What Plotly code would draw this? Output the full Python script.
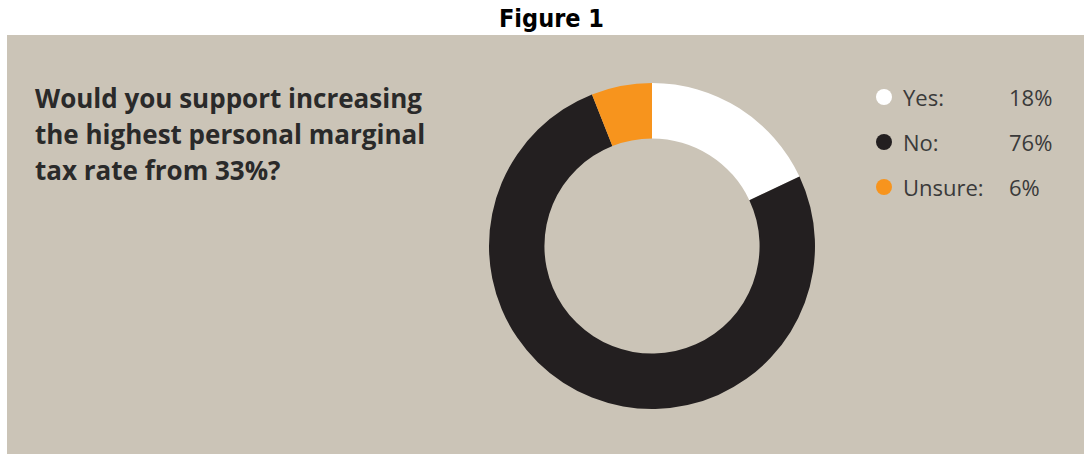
import plotly.graph_objects as go

labels = ["Yes", "No", "Unsure"]
values = [18, 76, 6]
colors = ["#FFFFFF", "#231F20", "#F7941D"]
question_lines = ["Would you support increasing", "the highest personal marginal", "tax rate from 33%?"]
fig_title = "Figure 1"

W, H = 1084, 454
BG = "#CBC4B7"
TXT = "#3A3A3A"

fig = go.Figure()

# donut
fig.add_trace(go.Pie(
    labels=labels, values=values, hole=0.66, sort=False, direction="clockwise",
    rotation=0, marker=dict(colors=colors, line=dict(width=0)),
    textinfo="none", hoverinfo="label+percent", showlegend=False,
    domain=dict(x=[489 / W, 815 / W], y=[1 - 409 / H, 1 - 83 / H]),
))

# legend markers
leg_y = [97 + 45 * i for i in range(len(labels))]
fig.add_trace(go.Scatter(
    x=[884] * len(labels), y=leg_y, mode="markers",
    marker=dict(size=16, color=colors, line=dict(width=0)),
    showlegend=False, hoverinfo="skip", xaxis="x", yaxis="y",
))

anns = []
for lab, val, y in zip(labels, values, leg_y):
    anns.append(dict(x=901, y=y, xref="x", yref="y", text=f"{lab}:", showarrow=False,
                     xanchor="left", yanchor="middle",
                     font=dict(family="Open Sans", size=22, color=TXT)))
    anns.append(dict(x=1007, y=y, xref="x", yref="y", text=f"{val}%", showarrow=False,
                     xanchor="left", yanchor="middle",
                     font=dict(family="Open Sans", size=22, color=TXT)))

for i, line in enumerate(question_lines):
    anns.append(dict(x=33, y=98 + 36 * i, xref="x", yref="y", text=f"<b>{line}</b>", showarrow=False,
                     xanchor="left", yanchor="middle",
                     font=dict(family="Open Sans", size=26, color="#2A2A2A")))

anns.append(dict(x=551, y=18, xref="x", yref="y", text=f"<b>{fig_title}</b>", showarrow=False,
                 xanchor="center", yanchor="middle",
                 font=dict(family="DejaVu Sans Condensed", size=25, color="#000000")))

fig.update_layout(
    width=W, height=H, margin=dict(l=0, r=0, t=0, b=0),
    paper_bgcolor="#FFFFFF", plot_bgcolor="rgba(0,0,0,0)",
    xaxis=dict(range=[0, W], visible=False, fixedrange=True, domain=[0, 1]),
    yaxis=dict(range=[H, 0], visible=False, fixedrange=True, domain=[0, 1]),
    shapes=[dict(type="rect", xref="x", yref="y", x0=7, x1=W, y0=35, y1=H,
                 fillcolor=BG, line=dict(width=0), layer="below")],
    annotations=anns,
)

fig.write_html("out.html", config={"displayModeBar": False},
               post_script="document.body.style.margin='0';document.body.style.overflow='hidden';")
